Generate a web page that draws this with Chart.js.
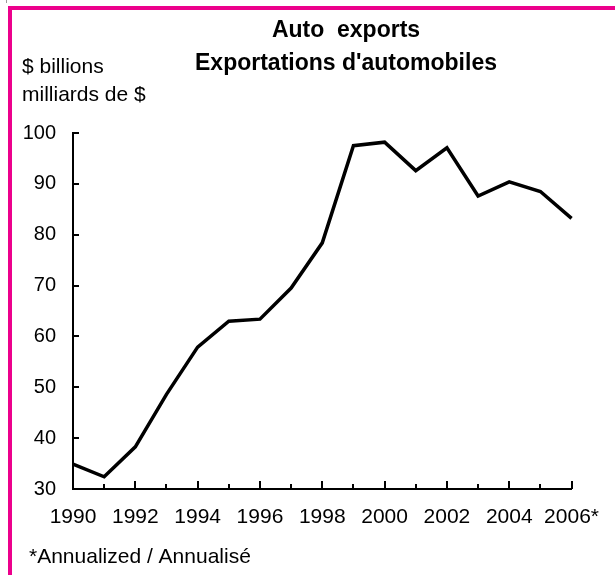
<!DOCTYPE html>
<html>
<head>
<meta charset="utf-8">
<script src="https://cdn.jsdelivr.net/npm/chart.js@4"></script>
<style>
    body { margin: 0; background: #fff; }
    #wrap { position: relative; width: 615px; height: 575px; overflow: hidden; }
    #frame {
        position: absolute; left: 8px; top: 6px; width: 700px; height: 700px;
        border-left: 4px solid #ec008c; border-top: 4px solid #ec008c;
        pointer-events: none;
    }
    #nick { position: absolute; left: 6px; top: 0; width: 1px; height: 3px; background: #999; }
    canvas { position: absolute; left: 0; top: 0; }
</style>
</head>
<body>
<div id="wrap">
    <div id="nick"></div>
    <div id="frame"></div>
    <canvas id="autoChart" width="615" height="575"></canvas>
</div>
<script>
// =========================
// DATA
// =========================
const years = ["1990", "1991", "1992", "1993", "1994", "1995", "1996", "1997", "1998",
    "1999", "2000", "2001", "2002", "2003", "2004", "2005", "2006"];
const exportsBillions = [34.9, 32.4, 38.3, 48.6, 57.9, 63.0, 63.4, 69.5, 78.4,
    97.5, 98.2, 92.6, 97.1, 87.6, 90.4, 88.5, 83.2];
const yTicks = [30, 40, 50, 60, 70, 80, 90, 100];
const titleLines = ["Auto  exports", "Exportations d'automobiles"];
const unitLines = ["$ billions", "milliards de $"];
const footnote = "*Annualized / Annualisé";

const FONT = "'Liberation Sans', Arial, Helvetica, sans-serif";

// textes + petits traits vers l'intérieur
const decor = {
    id: "decor",
    afterDraw(chart) {
        const ctx = chart.ctx;
        const x = chart.scales.x;
        const y = chart.scales.y;
        const area = chart.chartArea;

        ctx.save();
        ctx.strokeStyle = "#000";
        ctx.lineWidth = 2;
        ctx.beginPath();
        yTicks.forEach(v => {
            const py = Math.round(y.getPixelForValue(v));
            ctx.moveTo(area.left, py);
            ctx.lineTo(area.left + 6, py);
        });
        years.forEach((yr, i) => {
            const px = Math.round(x.getPixelForValue(i));
            ctx.moveTo(px, area.bottom);
            ctx.lineTo(px, area.bottom - (i % 2 === 0 ? 8 : 5));
        });
        ctx.stroke();

        ctx.fillStyle = "#000";
        ctx.textBaseline = "alphabetic";
        ctx.textAlign = "center";
        ctx.font = "bold 23px " + FONT;
        ctx.fillText(titleLines[0], 346, 37);
        ctx.fillText(titleLines[1], 346, 70);

        ctx.textAlign = "left";
        ctx.font = "21px " + FONT;
        ctx.fillText(unitLines[0], 22, 73);
        ctx.fillText(unitLines[1], 22, 101);
        ctx.fillText(footnote, 29, 563);
        ctx.restore();
    }
};

new Chart(document.getElementById("autoChart").getContext("2d"), {
    type: "line",
    data: {
        labels: years,
        datasets: [{
            label: "Auto exports",
            data: exportsBillions,
            borderColor: "#000",
            borderWidth: 3.5,
            pointRadius: 0,
            tension: 0,
            fill: false
        }]
    },
    options: {
        responsive: false,
        animation: false,
        layout: { padding: { top: 133, right: 27, left: 0, bottom: 0 } },
        plugins: { legend: { display: false }, title: { display: false }, tooltip: { enabled: false } },
        scales: {
            x: {
                type: "category",
                offset: false,
                grid: { display: false, drawTicks: false },
                border: { display: true, color: "#000", width: 2 },
                ticks: {
                    autoSkip: false,
                    maxRotation: 0,
                    padding: 16,
                    color: "#000",
                    font: { family: FONT, size: 21 },
                    callback: (val, i) => {
                        if (i % 2 !== 0) return "";
                        return i === years.length - 1 ? years[i] + "*" : years[i];
                    }
                },
                afterFit: (s) => { s.height = 86; }
            },
            y: {
                min: 30,
                max: 100,
                grid: { display: false, drawTicks: false },
                border: { display: true, color: "#000", width: 2 },
                ticks: {
                    stepSize: 10,
                    padding: 17,
                    color: "#000",
                    font: { family: FONT, size: 20 }
                },
                afterFit: (s) => { s.width = 73; }
            }
        }
    },
    plugins: [decor]
});
</script>
</body>
</html>
